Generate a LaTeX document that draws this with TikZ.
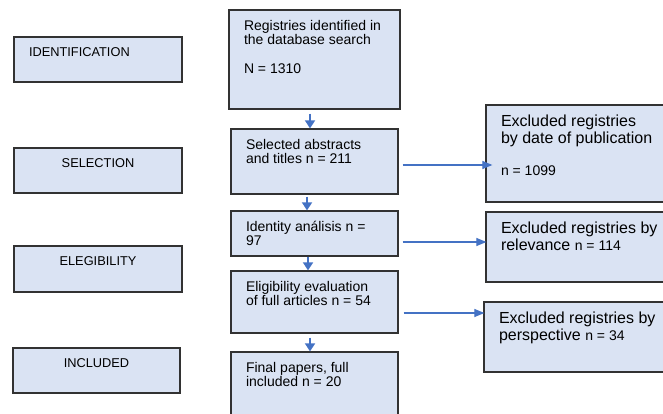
\documentclass[tikz,border=0pt]{standalone}
\usepackage{fontspec}
\setmainfont{Liberation Sans}
\usetikzlibrary{arrows.meta,calc}
\definecolor{boxfill}{RGB}{218,227,243}
\definecolor{boxline}{RGB}{50,50,50}
\definecolor{arrowblue}{RGB}{68,114,196}
\newcommand{\topbox}[3]{\parbox[c][#2][t]{#1}{\raggedright #3}}
\newcommand{\nsmall}[1]{{\fontsize{14}{17}\selectfont #1}}

\begin{document}
\begin{tikzpicture}[x=1pt,y=-1pt,
    box/.style={draw=boxline, line width=1.3pt, fill=boxfill, inner xsep=15pt, inner ysep=10pt},
    stage/.style={box, inner ysep=11pt, font=\fontsize{12.8}{15}\selectfont},
    flow/.style={box, font=\fontsize{14}{14.3}\selectfont},
    excl/.style={box, font=\fontsize{16}{17}\selectfont},
    down/.style={draw=arrowblue, line width=1.8pt, -{Triangle[width=10pt,length=8pt]}},
    side/.style={draw=arrowblue, line width=1.2pt, -{Triangle[width=8pt,length=10pt]}}]
    \useasboundingbox (0,0) rectangle (663,414);
    \clip (0,0) rectangle (663,414);
        %Stages
        \node [stage] (ident)at(98,59.5){\topbox{138pt}{23pt}{IDENTIFICATION}};
        \node [stage] (selec)at(98,170.5){\topbox{138pt}{23pt}{\centering SELECTION}};
        \node [stage] (elig)at(98,269){\topbox{138pt}{24pt}{\centering ELEGIBILITY}};
        \node [stage] (incl)at(96.5,370.5){\topbox{137pt}{23pt}{\centering INCLUDED}};
        %Flow
        \node [flow] (reg)at(314.5,59.5){\topbox{141pt}{79pt}{Registries identified in\\the database search\\[14.3pt]N = 1310}};
        \node [flow] (sel)at(314.5,161.5){\topbox{137pt}{45pt}{Selected abstracts\\and titles n = 211}};
        \node [flow] (ide)at(314.5,233.5){\topbox{137pt}{25pt}{Identity análisis n =\\97}};
        \node [flow] (eli)at(314.5,302){\topbox{137pt}{42pt}{Eligibility evaluation\\of full articles n = 54}};
        \node [flow] (fin)at(314.5,388){\topbox{137pt}{52pt}{Final papers, full\\included n = 20}};
        %Excluded
        \node [excl] (exdate)at(583,153.5){\topbox{164pt}{77pt}{Excluded registries\\by date of publication\\[15pt]\nsmall{n = 1099}}};
        \node [excl] (exrel)at(583,247){\topbox{164pt}{50pt}{Excluded registries by\\relevance \nsmall{n = 114}}};
        \node [excl] (expers)at(582,337){\topbox{166pt}{50pt}{Excluded registries by\\perspective \nsmall{n = 34}}};

        \draw [down]($(reg.south)+(-4.5,4)$)--($(sel.north)+(-4.5,0)$);
        \draw [down]($(sel.south)+(-7.5,2)$)--($(ide.north)+(-7.5,0)$);
        \draw [down]($(ide.south)+(-6.5,0)$)--($(eli.north)+(-6.5,0)$);
        \draw [down]($(eli.south)+(-4.5,4)$)--($(fin.north)+(-4.5,0)$);

        \draw [side]($(sel.east)+(4,3.5)$)--($(sel.east -| exdate.west)+(7,3.5)$);
        \draw [side]($(ide.east)+(4,8.5)$)--($(ide.east -| exrel.west)+(1,8.5)$);
        \draw [side]($(eli.east)+(5,11)$)--($(eli.east -| expers.west)+(1,11)$);

    \end{tikzpicture}
\end{document}
